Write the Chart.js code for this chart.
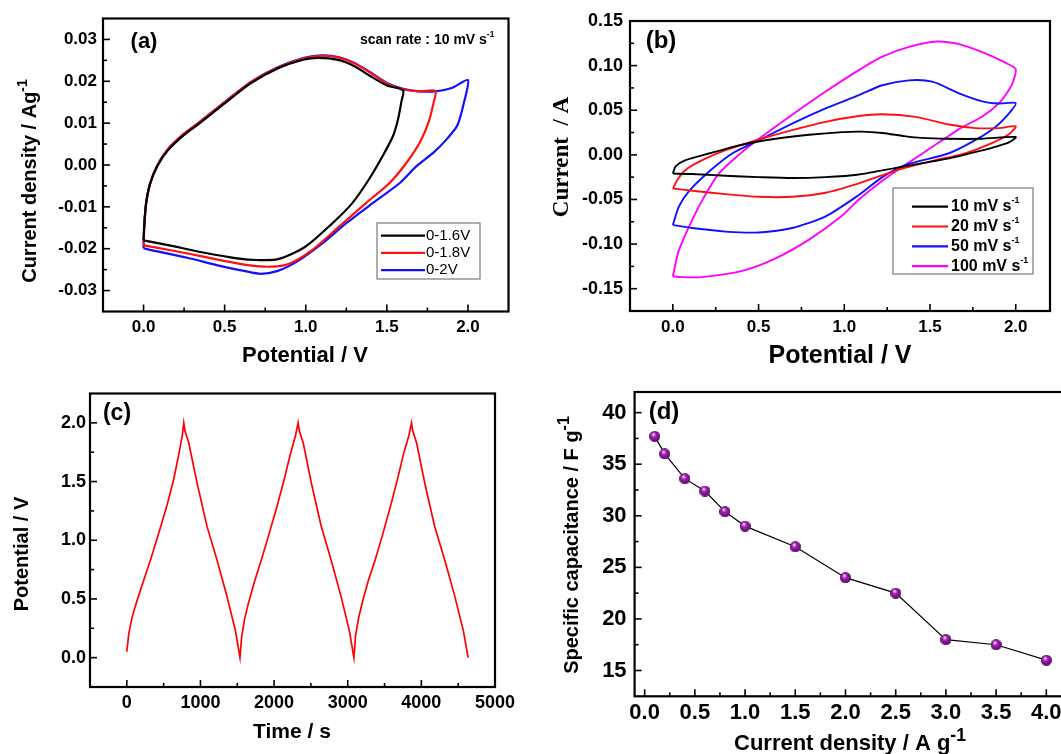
<!DOCTYPE html>
<html>
<head>
<meta charset="utf-8">
<script src="https://cdn.jsdelivr.net/npm/chart.js@4.4.1/dist/chart.umd.min.js"></script>
<style>
  html, body { margin: 0; padding: 0; background: #fff; width: 1061px; height: 754px; overflow: hidden; }
  canvas { position: absolute; left: 0; top: 0; }
</style>
</head>
<body>
<canvas id="cvA" width="1061" height="754"></canvas>
<canvas id="cvB" width="1061" height="754"></canvas>
<canvas id="gcdC" width="1061" height="754"></canvas>
<canvas id="capD" width="1090" height="754"></canvas>
<script>
// ---- (a) CV at 10 mV/s, three potential windows ----
const labelsA = ["0-1.6V", "0-1.8V", "0-2V"];
const potA16 = [0, 0.004, 0.015, 0.04, 0.086, 0.15, 0.25, 0.347, 0.5, 0.66, 0.83, 0.99, 1.08, 1.2, 1.3, 1.4, 1.5, 1.6, 1.59, 1.57, 1.54, 1.475, 1.39, 1.287, 1.162, 0.995, 0.828, 0.702, 0.577, 0.368, 0.159, 0];
const curA16 = [-0.018, -0.0145, -0.0093, -0.0045, -0.0002, 0.0035, 0.0072, 0.01, 0.0147, 0.0195, 0.0231, 0.0252, 0.0256, 0.0251, 0.0236, 0.0212, 0.019, 0.0178, 0.0152, 0.0111, 0.0071, 0.0022, -0.0034, -0.0091, -0.014, -0.0196, -0.0225, -0.0227, -0.0223, -0.0209, -0.0192, -0.018];
const potA18 = [0, 0.004, 0.015, 0.04, 0.086, 0.15, 0.25, 0.347, 0.5, 0.66, 0.83, 0.99, 1.1, 1.2, 1.3, 1.4, 1.5, 1.6, 1.7, 1.8, 1.79, 1.758, 1.705, 1.622, 1.517, 1.371, 1.204, 1.037, 0.89, 0.744, 0.577, 0.368, 0.159, 0];
const curA18 = [-0.0192, -0.015, -0.0095, -0.0045, 0.0, 0.0038, 0.0075, 0.0103, 0.015, 0.0198, 0.0233, 0.0255, 0.0261, 0.0257, 0.0243, 0.022, 0.0195, 0.0181, 0.0176, 0.0177, 0.0152, 0.0103, 0.0055, 0.0006, -0.0043, -0.0091, -0.0148, -0.0204, -0.0237, -0.0243, -0.0235, -0.0219, -0.0203, -0.0192];
const potA20 = [0, 0.004, 0.015, 0.04, 0.086, 0.15, 0.25, 0.347, 0.5, 0.66, 0.83, 0.99, 1.1, 1.2, 1.3, 1.4, 1.5, 1.6, 1.7, 1.8, 1.9, 2.0, 1.977, 1.935, 1.872, 1.789, 1.684, 1.58, 1.413, 1.246, 1.1, 0.953, 0.828, 0.723, 0.619, 0.472, 0.263, 0.054, 0];
const curA20 = [-0.0199, -0.015, -0.0095, -0.0045, 0.0, 0.0038, 0.0075, 0.0103, 0.015, 0.0198, 0.0234, 0.0256, 0.0262, 0.0258, 0.0244, 0.0221, 0.0196, 0.0182, 0.0176, 0.0176, 0.0184, 0.0203, 0.0152, 0.0095, 0.0063, 0.003, -0.0002, -0.0043, -0.0091, -0.014, -0.0188, -0.0229, -0.0253, -0.026, -0.0253, -0.0241, -0.0221, -0.0204, -0.0199];

// ---- (b) CV at different scan rates ----
const labelsB = ["10 mV s^-1", "20 mV s^-1", "50 mV s^-1", "100 mV s^-1"];
const potB10 = [0, 0.016, 0.074, 0.21, 0.405, 0.599, 0.794, 0.988, 1.1, 1.222, 1.35, 1.45, 1.6, 1.8, 2.0, 1.96, 1.88, 1.805, 1.611, 1.319, 1.085, 0.891, 0.696, 0.502, 0.307, 0.113, 0];
const curB10 = [-0.021, -0.013, -0.006, 0.0015, 0.0115, 0.018, 0.0225, 0.0255, 0.026, 0.0245, 0.021, 0.019, 0.018, 0.018, 0.02, 0.014, 0.009, 0.005, -0.004, -0.014, -0.022, -0.025, -0.026, -0.025, -0.0235, -0.0215, -0.021];
const potB20 = [0, 0.025, 0.074, 0.171, 0.307, 0.502, 0.696, 0.891, 1.085, 1.222, 1.416, 1.611, 1.766, 1.903, 2.0, 1.961, 1.864, 1.708, 1.513, 1.319, 1.085, 0.891, 0.696, 0.502, 0.307, 0.113, 0];
const curB20 = [-0.0377, -0.0284, -0.017, -0.006, 0.0053, 0.0172, 0.0277, 0.037, 0.0435, 0.0455, 0.0425, 0.034, 0.03, 0.03, 0.032, 0.023, 0.0135, 0.002, -0.007, -0.0165, -0.032, -0.0425, -0.047, -0.047, -0.044, -0.0402, -0.0377];
const potB50 = [0, 0.035, 0.093, 0.21, 0.346, 0.502, 0.696, 0.891, 1.085, 1.222, 1.377, 1.513, 1.669, 1.805, 1.903, 2.0, 1.961, 1.883, 1.766, 1.611, 1.358, 1.222, 1.085, 0.891, 0.696, 0.502, 0.307, 0.113, 0];
const curB50 = [-0.0787, -0.058, -0.041, -0.019, 0.0015, 0.0164, 0.035, 0.052, 0.067, 0.078, 0.0835, 0.082, 0.069, 0.06, 0.0575, 0.058, 0.0466, 0.0316, 0.0167, 0.0018, -0.0113, -0.025, -0.045, -0.069, -0.082, -0.087, -0.086, -0.082, -0.0787];
const potB100 = [0, 0.02, 0.035, 0.093, 0.171, 0.268, 0.385, 0.502, 0.696, 0.891, 1.085, 1.222, 1.377, 1.542, 1.669, 1.805, 1.942, 2.0, 1.985, 1.961, 1.903, 1.805, 1.688, 1.592, 1.475, 1.358, 1.222, 1.085, 0.988, 0.794, 0.599, 0.405, 0.171, 0.05, 0];
const curB100 = [-0.136, -0.118, -0.107, -0.081, -0.051, -0.021, 0.0, 0.018, 0.045, 0.071, 0.095, 0.11, 0.121, 0.127, 0.124, 0.115, 0.103, 0.096, 0.082, 0.073, 0.058, 0.043, 0.031, 0.019, 0.004, -0.011, -0.029, -0.05, -0.068, -0.095, -0.116, -0.13, -0.137, -0.137, -0.136];

// ---- (c) galvanostatic charge / discharge ----
const timeC = [0, 26, 72, 140, 230, 320, 433, 547, 637, 705, 750, 773,
  790, 841, 954, 1090, 1226, 1362, 1475, 1537,
  1560, 1600, 1650, 1730, 1820, 1930, 2040, 2130, 2220, 2290, 2326,
  2343, 2395, 2505, 2640, 2775, 2910, 3022, 3084,
  3107, 3148, 3198, 3277, 3366, 3475, 3585, 3672, 3760, 3830, 3866,
  3883, 3935, 4045, 4180, 4318, 4455, 4570, 4635];
const potC = [0.05, 0.2, 0.345, 0.488, 0.659, 0.83, 1.059, 1.3, 1.52, 1.73, 1.88, 2.0,
  1.93, 1.83, 1.487, 1.116, 0.83, 0.516, 0.231, 0.0,
  0.18, 0.33, 0.46, 0.64, 0.82, 1.05, 1.29, 1.5, 1.73, 1.89, 2.0,
  1.93, 1.83, 1.49, 1.12, 0.83, 0.52, 0.23, 0.0,
  0.19, 0.34, 0.47, 0.65, 0.82, 1.05, 1.3, 1.51, 1.74, 1.89, 2.0,
  1.93, 1.83, 1.49, 1.12, 0.83, 0.52, 0.23, 0.0];

// ---- (d) specific capacitance vs current density ----
const densityD = [0.1, 0.2, 0.4, 0.6, 0.8, 1.0, 1.5, 2.0, 2.5, 3.0, 3.5, 4.0];
const capD = [37.7, 36.0, 33.6, 32.4, 30.4, 29.0, 27.0, 24.0, 22.5, 18.0, 17.5, 16.0];

Chart.defaults.font.family = "'Liberation Sans', Arial, sans-serif";
Chart.defaults.color = "#000";

const SANS = "'Liberation Sans', Arial, sans-serif";
const SERIF = "'Liberation Serif', 'Times New Roman', serif";

function pts(xs, ys) {
  return xs.map((x, i) => ({ x: x, y: ys[i] }));
}

function isMajor(v, step) {
  const r = v / step;
  return Math.abs(r - Math.round(r)) < 1e-6;
}

function tickFmt(step, dec, lo, hi) {
  return function (v) {
    if (Math.abs(v) < 1e-9) v = 0;
    if (!isMajor(v, step) || v < lo - 1e-9 || v > hi + 1e-9) return "";
    return v.toFixed(dec);
  };
}

function axis(min, max, step, size, pad, cb, fixed, isX) {
  return {
    type: "linear", min: min, max: max,
    grid: { display: false, drawTicks: false },
    border: { display: false },
    ticks: { stepSize: step, includeBounds: false, autoSkip: false, maxRotation: 0,
      padding: pad, color: "#000", font: { size: size, weight: "bold" }, callback: cb },
    afterFit: function (s) { if (isX) s.height = fixed; else s.width = fixed; }
  };
}

function line(xs, ys, color, label, width, tension) {
  return { label: label, data: pts(xs, ys), showLine: true, borderColor: color,
    backgroundColor: color, borderWidth: width, pointRadius: 0, tension: tension, fill: false };
}

// text with an optional "^" superscript part
function richText(ctx, str, x, y, size, family, weight, align, rot, supScale) {
  const parts = str.split("^");
  const base = parts[0], sup = parts[1];
  const supSize = size * (supScale || 0.62);
  ctx.save();
  ctx.translate(x, y);
  if (rot) ctx.rotate(rot);
  ctx.font = weight + " " + size + "px " + family;
  const wb = ctx.measureText(base).width;
  let ws = 0;
  if (sup) { ctx.font = weight + " " + supSize + "px " + family; ws = ctx.measureText(sup).width; }
  const total = wb + ws;
  const x0 = align === "center" ? -total / 2 : align === "right" ? -total : 0;
  ctx.fillStyle = "#000";
  ctx.textAlign = "left";
  ctx.textBaseline = "middle";
  ctx.font = weight + " " + size + "px " + family;
  ctx.fillText(base, x0, 0);
  if (sup) {
    ctx.font = weight + " " + supSize + "px " + family;
    ctx.fillText(sup, x0 + wb, -size * 0.36);
  }
  ctx.restore();
}

const decorPlugin = {
  id: "decor",
  afterDraw(chart, args, o) {
    const ctx = chart.ctx;
    const a = chart.chartArea;
    const xs = chart.scales.x, ys = chart.scales.y;
    ctx.save();
    ctx.strokeStyle = "#000";
    ctx.lineWidth = 1.6;
    xs.ticks.forEach(t => {
      const p = xs.getPixelForValue(t.value);
      if (p < a.left + 1 || p > a.right - 1) return;
      const len = isMajor(t.value, o.majorX) ? 7 : 4;
      ctx.beginPath(); ctx.moveTo(p, a.bottom); ctx.lineTo(p, a.bottom - len); ctx.stroke();
    });
    ys.ticks.forEach(t => {
      const p = ys.getPixelForValue(t.value);
      if (p < a.top + 1 || p > a.bottom - 1) return;
      const len = isMajor(t.value, o.majorY) ? 7 : 4;
      ctx.beginPath(); ctx.moveTo(a.left, p); ctx.lineTo(a.left + len, p); ctx.stroke();
    });
    ctx.lineWidth = 2.2;
    ctx.strokeRect(a.left, a.top, a.right - a.left, a.bottom - a.top);

    if (o.legend) {
      const L = o.legend;
      ctx.lineWidth = 1.2;
      ctx.strokeStyle = "#7a7a7a";
      ctx.strokeRect(L.x1, L.y1, L.x2 - L.x1, L.y2 - L.y1);
      chart.data.datasets.forEach((ds, i) => {
        const yy = L.first + i * L.pitch;
        ctx.strokeStyle = ds.borderColor;
        ctx.lineWidth = 2.2;
        ctx.beginPath(); ctx.moveTo(L.lx1, yy); ctx.lineTo(L.lx2, yy); ctx.stroke();
        richText(ctx, ds.label, L.tx, yy, L.size, SANS, L.weight, "left", 0, 0.55);
      });
    }
    (o.texts || []).forEach(t => {
      richText(ctx, t.s, t.x, t.y, t.size, t.family || SANS, t.weight || "bold",
        t.align || "center", t.rot || 0, t.sup);
    });
    ctx.restore();
  }
};

// ---------- (a) ----------
new Chart(document.getElementById("cvA"), {
  type: "scatter",
  data: { datasets: [
    line(potA16, curA16, "#000000", labelsA[0], 2.2, 0.25),
    line(potA18, curA18, "#ff1010", labelsA[1], 2.2, 0.25),
    line(potA20, curA20, "#1010ff", labelsA[2], 2.2, 0.25)
  ] },
  options: {
    animation: false, responsive: false,
    layout: { padding: { left: 0, top: 18.5, right: 1061 - 508.5, bottom: 0 } },
    scales: {
      x: axis(-0.25, 2.25, 0.25, 17, 6, tickFmt(0.5, 1, 0, 2), 754 - 311.5, true),
      y: axis(-0.035, 0.035, 0.005, 17, 6, tickFmt(0.01, 2, -0.03, 0.03), 103, false)
    },
    plugins: {
      legend: { display: false }, tooltip: { enabled: false },
      decor: {
        majorX: 0.5, majorY: 0.01,
        legend: { x1: 377, y1: 223, x2: 480, y2: 279, first: 235.7, pitch: 17.2, lx1: 381, lx2: 425, tx: 426, size: 15, weight: "normal" },
        texts: [
          { s: "(a)", x: 144, y: 42, size: 22 },
          { s: "scan rate : 10 mV s^-1", x: 360, y: 40, size: 14, align: "left", sup: 0.6 },
          { s: "Potential / V", x: 305, y: 356, size: 22 },
          { s: "Current density / Ag^-1", x: 30.5, y: 181, size: 20, rot: -Math.PI / 2, sup: 0.7 }
        ]
      }
    }
  },
  plugins: [decorPlugin]
});

// ---------- (b) ----------
new Chart(document.getElementById("cvB"), {
  type: "scatter",
  data: { datasets: [
    line(potB10, curB10, "#000000", labelsB[0], 1.9, 0.25),
    line(potB20, curB20, "#ff1010", labelsB[1], 1.9, 0.25),
    line(potB50, curB50, "#1010ff", labelsB[2], 1.9, 0.25),
    line(potB100, curB100, "#ff00ff", labelsB[3], 1.9, 0.25)
  ] },
  options: {
    animation: false, responsive: false,
    layout: { padding: { left: 0, top: 21, right: 1061 - 1050, bottom: 0 } },
    scales: {
      x: axis(-0.25, 2.2, 0.25, 17, 6, tickFmt(0.5, 1, 0, 2), 754 - 311, true),
      y: axis(-0.175, 0.15, 0.025, 18, 7, tickFmt(0.05, 2, -0.15, 0.15), 630, false)
    },
    plugins: {
      legend: { display: false }, tooltip: { enabled: false },
      decor: {
        majorX: 0.5, majorY: 0.05,
        legend: { x1: 893, y1: 188, x2: 1033, y2: 274, first: 206.7, pitch: 19.8, lx1: 912, lx2: 948, tx: 951, size: 16, weight: "bold" },
        texts: [
          { s: "(b)", x: 661, y: 41, size: 24 },
          { s: "Potential / V", x: 840, y: 356, size: 25 },
          { s: "Current  / A", x: 562, y: 157, size: 23, family: SERIF, rot: -Math.PI / 2 }
        ]
      }
    }
  },
  plugins: [decorPlugin]
});

// ---------- (c) ----------
new Chart(document.getElementById("gcdC"), {
  type: "scatter",
  data: { datasets: [ line(timeC, potC, "#ff0000", "GCD", 1.7, 0) ] },
  options: {
    animation: false, responsive: false,
    layout: { padding: { left: 0, top: 393.5, right: 1061 - 495, bottom: 0 } },
    scales: {
      x: axis(-500, 5000, 500, 18, 5, tickFmt(1000, 0, 0, 5000), 754 - 687, true),
      y: axis(-0.25, 2.25, 0.25, 18, 4, tickFmt(0.5, 1, 0, 2), 90, false)
    },
    plugins: {
      legend: { display: false }, tooltip: { enabled: false },
      decor: {
        majorX: 1000, majorY: 0.5,
        texts: [
          { s: "(c)", x: 117, y: 414, size: 23 },
          { s: "Time / s", x: 292, y: 732, size: 21 },
          { s: "Potential / V", x: 22, y: 554, size: 20, rot: -Math.PI / 2 }
        ]
      }
    }
  },
  plugins: [decorPlugin]
});

// ---------- (d) ----------
function sphere(r) {
  const c = document.createElement("canvas");
  c.width = c.height = 2 * r;
  const g = c.getContext("2d");
  const grad = g.createRadialGradient(r * 0.75, r * 0.6, r * 0.1, r, r, r);
  grad.addColorStop(0, "#f3d0f7");
  grad.addColorStop(0.35, "#a322b3");
  grad.addColorStop(1, "#5a0868");
  g.fillStyle = grad;
  g.beginPath(); g.arc(r, r, r, 0, Math.PI * 2); g.fill();
  return c;
}

new Chart(document.getElementById("capD"), {
  type: "scatter",
  data: { datasets: [ {
    label: "Cs", data: pts(densityD, capD), showLine: true, borderColor: "#000",
    borderWidth: 1.2, pointStyle: sphere(5.5), tension: 0, fill: false
  } ] },
  options: {
    animation: false, responsive: false,
    layout: { padding: { left: 0, top: 392, right: 1090 - 1066.4, bottom: 0 } },
    scales: {
      x: axis(-0.1, 4.2, 0.25, 22, 3, tickFmt(0.5, 1, 0, 4), 754 - 696.3, true),
      y: axis(12.5, 42, 2.5, 22, 8, tickFmt(5, 0, 15, 40), 634.6, false)
    },
    plugins: {
      legend: { display: false }, tooltip: { enabled: false },
      decor: {
        majorX: 0.5, majorY: 5,
        texts: [
          { s: "(d)", x: 664, y: 412, size: 24 },
          { s: "Current density / A g^-1", x: 850, y: 744, size: 22, sup: 0.8 },
          { s: "Specific capacitance / F g^-1", x: 572, y: 545, size: 20, rot: -Math.PI / 2, sup: 0.8 }
        ]
      }
    }
  },
  plugins: [decorPlugin]
});
</script>
</body>
</html>
